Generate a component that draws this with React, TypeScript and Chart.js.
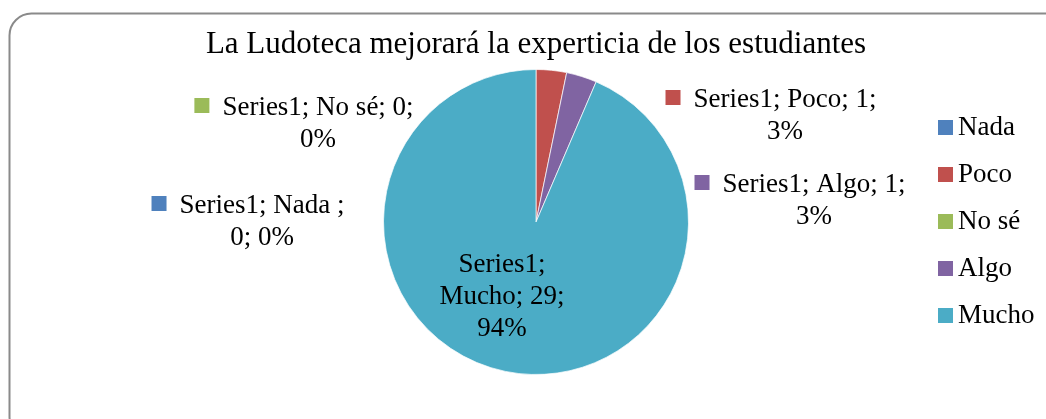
import React, { useEffect, useRef } from "react";
import { Chart, registerables } from "chart.js";

Chart.register(...registerables);

const TITLE = "La Ludoteca mejorará la experticia de los estudiantes";
const SERIES_NAME = "Series1";
const categories = ["Nada", "Poco", "No sé", "Algo", "Mucho"];
const labelNames = ["Nada ", "Poco", "No sé", "Algo", "Mucho"];
const values = [0, 1, 0, 1, 29];
const percents = ["0%", "3%", "0%", "3%", "94%"];
const colors = ["#4F81BD", "#C0504D", "#9BBB59", "#8064A2", "#4BACC6"];

const FONT = "'Liberation Serif', 'DejaVu Serif', serif";
const W = 1046;
const H = 419;

const labelLines = [
  [`${SERIES_NAME}; ${labelNames[0]};`, `${values[0]}; ${percents[0]}`],
  [`${SERIES_NAME}; ${labelNames[1]}; ${values[1]};`, percents[1]],
  [`${SERIES_NAME}; ${labelNames[2]}; ${values[2]};`, percents[2]],
  [`${SERIES_NAME}; ${labelNames[3]}; ${values[3]};`, percents[3]],
  [`${SERIES_NAME};`, `${labelNames[4]}; ${values[4]};`, percents[4]],
];
// label anchor offsets relative to pie center (dx of text center, dy of first baseline)
const labelOffsets = [
  { dx: -274, dy: -9, key: true },
  { dx: 249, dy: -115, key: true },
  { dx: -218, dy: -107, key: true },
  { dx: 278, dy: -30, key: true },
  { dx: -34, dy: 50, key: false },
];

const overlay = {
  id: "overlay",
  beforeDraw(chart: any) {
    const ctx = chart.ctx;
    ctx.save();
    ctx.fillStyle = "#fff";
    ctx.fillRect(0, 0, W, H);
    const x = 9.5, y = 13.5, w = 1060, h = 425, r = 22;
    ctx.beginPath();
    ctx.moveTo(x + r, y);
    ctx.lineTo(x + w - r, y);
    ctx.arcTo(x + w, y, x + w, y + r, r);
    ctx.lineTo(x + w, y + h - r);
    ctx.arcTo(x + w, y + h, x + w - r, y + h, r);
    ctx.lineTo(x + r, y + h);
    ctx.arcTo(x, y + h, x, y + h - r, r);
    ctx.lineTo(x, y + r);
    ctx.arcTo(x, y, x + r, y, r);
    ctx.closePath();
    ctx.strokeStyle = "#8a8a8a";
    ctx.lineWidth = 2;
    ctx.stroke();
    ctx.restore();
  },
  afterDraw(chart: any) {
    const ctx = chart.ctx;
    const meta = chart.getDatasetMeta(0);
    const arc = meta.data[0];
    const cx = arc.x;
    const cy = arc.y;
    ctx.save();
    ctx.fillStyle = "#000";
    ctx.textBaseline = "alphabetic";
    ctx.font = `31px ${FONT}`;
    ctx.textAlign = "center";
    ctx.fillText(TITLE, cx, 53);
    ctx.font = `27px ${FONT}`;
    const lh = 32;
    labelLines.forEach((lines, i) => {
      const o = labelOffsets[i];
      const lx = cx + o.dx;
      const ly = cy + o.dy;
      lines.forEach((t, j) => {
        ctx.textAlign = "center";
        ctx.fillText(t, lx, ly + j * lh);
      });
      if (o.key) {
        const w0 = ctx.measureText(lines[0]).width;
        ctx.fillStyle = colors[i];
        ctx.fillRect(lx - w0 / 2 - 28, ly - 17, 15, 15);
        ctx.fillStyle = "#000";
      }
    });
    ctx.textAlign = "left";
    categories.forEach((c, i) => {
      const by = 135 + i * 47;
      ctx.fillStyle = colors[i];
      ctx.fillRect(938, by - 15, 15, 15);
      ctx.fillStyle = "#000";
      ctx.fillText(c, 958, by);
    });
    ctx.restore();
  },
};

export default function App() {
  const ref = useRef<HTMLCanvasElement>(null);
  useEffect(() => {
    document.body.style.margin = "0";
    const chart = new Chart(ref.current!, {
      type: "pie",
      data: {
        labels: categories,
        datasets: [
          {
            data: values,
            backgroundColor: colors,
            borderColor: "rgba(255,255,255,0.7)",
            borderWidth: 1,
          },
        ],
      },
      options: {
        responsive: false,
        animation: false,
        layout: { padding: { left: 383, right: 357, top: 69, bottom: 44 } },
        plugins: {
          legend: { display: false },
          title: { display: false },
          tooltip: { enabled: false },
        },
      },
      plugins: [overlay],
    });
    return () => chart.destroy();
  }, []);
  return (
    <div style={{ position: "absolute", left: 0, top: 0, width: W, height: H }}>
      <canvas ref={ref} width={W} height={H} style={{ width: W, height: H }} />
    </div>
  );
}
